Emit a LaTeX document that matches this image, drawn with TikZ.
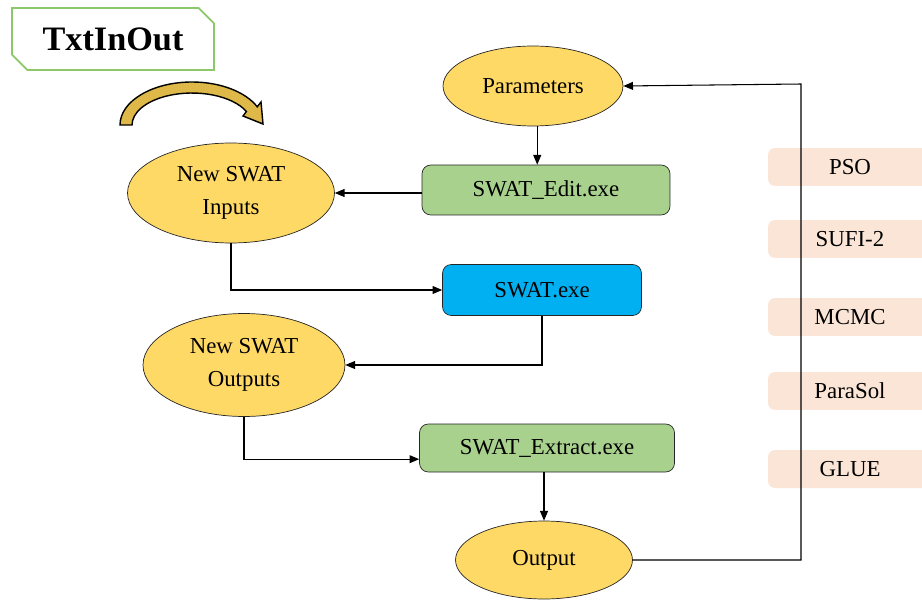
\documentclass[tikz,border=0pt]{standalone}
\usepackage{fontspec}
\setmainfont{Liberation Serif}
\usepackage{tikz}
\usetikzlibrary{shapes.geometric,shapes.misc,arrows.meta}
\definecolor{elgold}{RGB}{255,217,102}
\definecolor{arcgold}{RGB}{222,184,72}
\definecolor{boxgreen}{RGB}{169,209,142}
\definecolor{boxblue}{RGB}{0,176,240}
\definecolor{algopink}{RGB}{251,229,214}
\definecolor{tagline}{RGB}{140,200,105}

\begin{document}
\begin{tikzpicture}[x=0.02cm, y=-0.02cm, >={Triangle[length=5.5pt,width=4.5pt]}, font=\fontsize{13}{19}\selectfont,
    oval/.style = {ellipse, draw=black!85, fill=elgold, inner sep=0pt, align=center},
    exe/.style = {rectangle, rounded corners=5pt, draw=black!85, inner sep=0pt},
    algo/.style = {rectangle, rounded corners=4pt, fill=algopink, minimum width=3.28cm, minimum height=0.76cm}]
                \useasboundingbox (0,0) rectangle (922,601);
                \node[chamfered rectangle, chamfered rectangle corners={north east, south west},
                      chamfered rectangle xsep=0.2cm, draw=tagline, line width=1pt,
                      minimum width=4.04cm, minimum height=1.24cm,
                      font=\fontsize{19.5}{22}\selectfont\bfseries] at (113,39) (Tag) {TxtInOut};
                \draw[fill=arcgold, line width=0.8pt] (120,125) arc[start angle=180, end angle=335, x radius=72, y radius=43]
                      -- (261,102) -- (263,124) -- (243,116) -- (246.4,111.5)
                      arc[start angle=335, end angle=180, x radius=60, y radius=32] -- cycle;

                \node[oval, minimum width=3.6cm, minimum height=1.6cm] at (533,86) (Par) {Parameters};
                \node[exe, fill=boxgreen, minimum width=4.96cm, minimum height=1.0cm] at (546,190) (Edit) {SWAT\_Edit.exe};
                \node[oval, minimum width=4.14cm, minimum height=2.0cm] at (231,193) (In) {New SWAT\\Inputs};
                \node[exe, fill=boxblue, minimum width=3.98cm, minimum height=1.02cm] at (542,290) (Swat) {SWAT.exe};
                \node[oval, minimum width=4.04cm, minimum height=2.06cm] at (244,365) (Out) {New SWAT\\Outputs};
                \node[exe, fill=boxgreen, minimum width=5.1cm, minimum height=0.96cm] at (547,448) (Ext) {SWAT\_Extract.exe};
                \node[oval, minimum width=3.54cm, minimum height=1.56cm] at (544,560) (Res) {Output};

                \node[algo] at (850,167) (pso) {PSO};
                \node[algo] at (850,239) (sufi) {SUFI-2};
                \node[algo] at (850,317) (mcmc) {MCMC};
                \node[algo] at (850,391) (para) {ParaSol};
                \node[algo] at (850,469) (glue) {GLUE};
                \coordinate (top) at (801,84);

                \draw [->, semithick] (Par.-84) -- (Par.-84 |- Edit.north);
                \draw [->, semithick] (Edit.west |- In) -- (In.east);
                \draw [->, semithick] (In.south) |- (Swat.west);
                \draw [->, semithick] (Swat.south) |- (Out.east);
                \draw [->, semithick] (Out.south) |- (Ext.185);
                \draw [->, semithick] (Res.north |- Ext.south) -- (Res.north);
                \draw [->, semithick] (Res.east) -| (top) -- (Par.east);
            \end{tikzpicture}
\end{document}
